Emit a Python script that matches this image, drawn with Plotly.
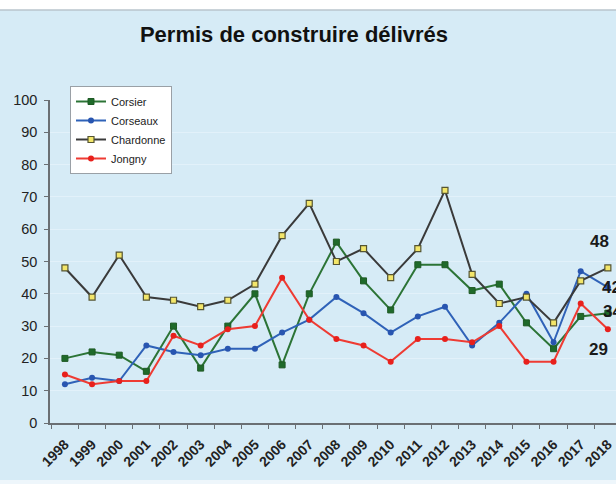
import plotly.graph_objects as go

years = list(range(1998, 2019))
corsier = [20, 22, 21, 16, 30, 17, 30, 40, 18, 40, 56, 44, 35, 49, 49, 41, 43, 31, 23, 33, 34]
corseaux = [12, 14, 13, 24, 22, 21, 23, 23, 28, 32, 39, 34, 28, 33, 36, 24, 31, 40, 25, 47, 42]
chardonne = [48, 39, 52, 39, 38, 36, 38, 43, 58, 68, 50, 54, 45, 54, 72, 46, 37, 39, 31, 44, 48]
jongny = [15, 12, 13, 13, 27, 24, 29, 30, 45, 32, 26, 24, 19, 26, 26, 25, 30, 19, 19, 37, 29]
end_labels = ["48", "42", "34", "29"]

BG = "#d6ebf6"

fig = go.Figure()
series = [
    ("Corsier", corsier, "#2c7436", dict(symbol="square", size=6, color="#1f6a2a", line=dict(color="#1f5a25", width=1))),
    ("Corseaux", corseaux, "#2f62b8", dict(symbol="circle", size=6, color="#2855b0", line=dict(color="#2855b0", width=0))),
    ("Chardonne", chardonne, "#3a3a3a", dict(symbol="square", size=6, color="#f3e66a", line=dict(color="#555533", width=1.2))),
    ("Jongny", jongny, "#ee3b33", dict(symbol="circle", size=6, color="#e8201c", line=dict(color="#e8201c", width=0))),
]
for name, vals, col, mk in series:
    fig.add_trace(go.Scatter(x=years, y=vals, name=name, mode="lines+markers",
                             line=dict(color=col, width=2), marker=mk))

# end labels (partly cut at the right edge, as in the reference)
xs = [2017.27, 2017.7, 2017.74, 2017.23]
ys = [56.3, 41.8, 34.4, 22.9]
for lab, xv, yv in zip(end_labels, xs, ys):
    fig.add_annotation(x=xv, y=yv, text="<b>" + lab + "</b>", showarrow=False,
                       xanchor="left", yanchor="middle",
                       font=dict(family="Liberation Sans, Arial", size=17, color="#1a1a1a"))

# white strips at top / bottom and separating line
fig.add_shape(type="rect", xref="paper", yref="paper", x0=-0.1, x1=1.1,
              y0=1 + (100 - 10) / 323, y1=1 + 100 / 323 + 0.01,
              fillcolor="white", line=dict(width=0), layer="above")
fig.add_shape(type="line", xref="paper", yref="paper", x0=-0.1, x1=1.1,
              y0=1 + (100 - 10) / 323, y1=1 + (100 - 10) / 323,
              line=dict(color="#b8c4cc", width=1.5), layer="above")
fig.add_shape(type="rect", xref="paper", yref="paper", x0=-0.1, x1=1.1,
              y0=-(480 - 423) / 323, y1=-(490 - 423) / 323,
              fillcolor="#eef6fb", line=dict(width=0), layer="above")

fig.update_layout(
    width=616, height=484,
    paper_bgcolor=BG, plot_bgcolor=BG,
    margin=dict(l=50, r=0, t=100, b=61),
    title=dict(text="<b>Permis de construire délivrés</b>", x=294 / 616, xanchor="center",
               y=1 - 34 / 484, yanchor="middle",
               font=dict(family="Liberation Sans, Arial", size=22, color="#111")),
    font=dict(family="Liberation Sans, Arial", color="#222"),
    showlegend=True,
    legend=dict(x=20 / 566, y=1 + 14 / 323, xanchor="left", yanchor="top",
                bgcolor="white", bordercolor="#9aa0a6", borderwidth=1,
                font=dict(size=11, color="#222"), itemwidth=30,
                entrywidth=94, tracegroupgap=0),
    xaxis=dict(range=[1997.45, 2018.3], tickmode="array", tickvals=years,
               ticktext=[str(y) for y in years], tickangle=-45,
               tickfont=dict(size=14, color="#222", family="Liberation Sans, Arial", weight="bold"),
               ticks="", showgrid=False, zeroline=False, ticklabelstandoff=6,
               showline=True, linecolor="#6b6f73", linewidth=1.5,
               minor=dict(tickmode="linear", tick0=1997.5, dtick=1, ticks="outside",
                          ticklen=4, tickcolor="#6b6f73", showgrid=False)),
    yaxis=dict(range=[0, 100], tickmode="linear", tick0=0, dtick=10,
               tickfont=dict(size=14.5, color="#222"),
               ticks="outside", ticklen=4, tickcolor="#6b6f73",
               showline=True, linecolor="#6b6f73", linewidth=1.5,
               showgrid=True, gridcolor="#e2f1fa", gridwidth=1, zeroline=False,
               ticklabelstandoff=4),
)

fig.write_html("out.html", config={"displayModeBar": False},
               post_script="document.body.style.margin='0';document.body.style.overflow='hidden';")
